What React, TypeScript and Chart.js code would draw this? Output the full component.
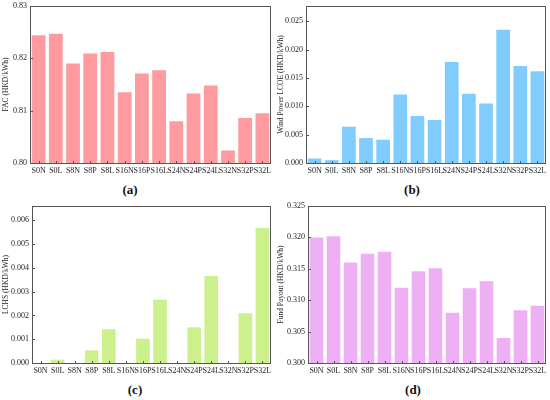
import { useEffect, useRef } from "react"
import { Chart, registerables } from "chart.js"

Chart.register(...registerables)

const scenarios = ["S0N", "S0L", "S8N", "S8P", "S8L", "S16N", "S16P", "S16L", "S24N", "S24P", "S24L", "S32N", "S32P", "S32L"]

const facValues = [0.8244, 0.8247, 0.819, 0.8209, 0.8212, 0.8135, 0.8171, 0.8177, 0.808, 0.8133, 0.8148, 0.8024, 0.8086, 0.8095]
const windLcoeValues = [0.0008, 0.0005, 0.0064, 0.0044, 0.0041, 0.0121, 0.0083, 0.0076, 0.0178, 0.0122, 0.0105, 0.0235, 0.0171, 0.0162]
const lchsValues = [0, 0.00014, 0, 0.00053, 0.00142, 0, 0.00102, 0.00266, 0, 0.0015, 0.00366, 0, 0.00209, 0.00567]
const fundPayoutValues = [0.32, 0.3202, 0.316, 0.3174, 0.3177, 0.312, 0.3146, 0.3151, 0.308, 0.3119, 0.313, 0.304, 0.3084, 0.3091]

const facTicks = [0.8, 0.81, 0.82, 0.83]
const windLcoeTicks = [0, 0.005, 0.01, 0.015, 0.02, 0.025]
const lchsTicks = [0, 0.001, 0.002, 0.003, 0.004, 0.005, 0.006]
const fundPayoutTicks = [0.3, 0.305, 0.31, 0.315, 0.32, 0.325]

const SERIF = "'Liberation Serif', 'Times New Roman', serif"

// box around the plot area with small inward ticks
const framePlugin = {
  id: "frame",
  afterDraw(chart: Chart) {
    const { ctx, chartArea } = chart
    const { left, right, top, bottom } = chartArea
    ctx.save()
    ctx.strokeStyle = "#555"
    ctx.lineWidth = 1
    ctx.strokeRect(left + 0.5, top + 0.5, right - left - 1, bottom - top)
    const y = chart.scales.y
    y.ticks.forEach((t) => {
      const py = Math.round(y.getPixelForValue(t.value)) + 0.5
      ctx.beginPath()
      ctx.moveTo(left, py)
      ctx.lineTo(left + 3, py)
      ctx.stroke()
    })
    const x = chart.scales.x
    scenarios.forEach((_, i) => {
      const px = Math.round(x.getPixelForValue(i)) + 0.5
      ctx.beginPath()
      ctx.moveTo(px, bottom)
      ctx.lineTo(px, bottom - 2)
      ctx.stroke()
    })
    ctx.restore()
  },
}

interface PanelProps {
  values: number[]
  ticks: number[]
  min: number
  max: number
  decimals: number
  color: string
  yTitle: string
  yWidth: number
  caption: string
  captionX: number
  left: number
  top: number
}

function Panel({ values, ticks, min, max, decimals, color, yTitle, yWidth, caption, captionX, left, top }: PanelProps) {
  const chartRef = useRef<HTMLCanvasElement>(null)
  const chartInstance = useRef<Chart | null>(null)

  useEffect(() => {
    if (!chartRef.current) return
    if (chartInstance.current) chartInstance.current.destroy()

    chartInstance.current = new Chart(chartRef.current, {
      type: "bar",
      data: {
        labels: scenarios,
        datasets: [
          {
            data: values,
            backgroundColor: color,
            borderWidth: 0,
            categoryPercentage: 1,
            barPercentage: 0.8,
          },
        ],
      },
      options: {
        responsive: false,
        animation: false,
        layout: { padding: { top: 6, right: 4, left: 0, bottom: 0 } },
        plugins: {
          legend: { display: false },
          tooltip: { enabled: false },
        },
        scales: {
          x: {
            grid: { display: false, drawTicks: false },
            border: { display: false },
            ticks: {
              autoSkip: false,
              maxRotation: 0,
              minRotation: 0,
              padding: 3,
              color: "#222",
              font: { family: SERIF, size: 8 },
            },
            afterFit: (scale: any) => {
              scale.height = 17
              scale.paddingLeft = 0
              scale.paddingRight = 0
            },
          },
          y: {
            min,
            max,
            grid: { display: false, drawTicks: false },
            border: { display: false },
            afterBuildTicks: (scale: any) => {
              scale.ticks = ticks.map((v) => ({ value: v }))
            },
            ticks: {
              padding: 3,
              color: "#222",
              font: { family: SERIF, size: 8 },
              callback: (v: any) => Number(v).toFixed(decimals),
            },
            title: {
              display: true,
              text: yTitle,
              color: "#222",
              padding: { top: 2, bottom: 2 },
              font: { family: SERIF, size: 7.5 },
            },
            afterFit: (scale: any) => {
              scale.width = yWidth
              scale.paddingTop = 0
              scale.paddingBottom = 0
            },
          },
        },
      },
      plugins: [framePlugin],
    })

    return () => {
      if (chartInstance.current) {
        chartInstance.current.destroy()
        chartInstance.current = null
      }
    }
  }, [values])

  return (
    <div style={{ position: "absolute", left, top, width: 275, height: 200 }}>
      <canvas ref={chartRef} width={275} height={180} style={{ display: "block" }} />
      <div
        style={{
          position: "absolute",
          top: 182,
          left: captionX - 20,
          width: 40,
          textAlign: "center",
          fontFamily: SERIF,
          fontSize: 13,
          fontWeight: 600,
          color: "#111",
        }}
      >
        {caption}
      </div>
    </div>
  )
}

export default function App() {
  return (
    <div style={{ position: "fixed", left: 0, top: 0, width: 550, height: 400, background: "#fff", overflow: "hidden" }}>
      <Panel values={facValues} ticks={facTicks} min={0.8} max={0.83} decimals={2} color="#FF9A9E"
        yTitle="FAC (HKD/kWh)" yWidth={30} caption="(a)" captionX={130} left={0} top={0} />
      <Panel values={windLcoeValues} ticks={windLcoeTicks} min={0} max={0.0277} decimals={3} color="#80CCFF"
        yTitle="Wind Power LCOE (HKD/kWh)" yWidth={31} caption="(b)" captionX={137} left={275} top={0} />
      <Panel values={lchsValues} ticks={lchsTicks} min={0} max={0.0066} decimals={3} color="#CCF08C"
        yTitle="LCHS (HKD/kWh)" yWidth={32} caption="(c)" captionX={135} left={0} top={200} />
      <Panel values={fundPayoutValues} ticks={fundPayoutTicks} min={0.3} max={0.325} decimals={3} color="#EDB0F5"
        yTitle="Fund Payout (HKD/kWh)" yWidth={33} caption="(d)" captionX={138} left={275} top={200} />
    </div>
  )
}
